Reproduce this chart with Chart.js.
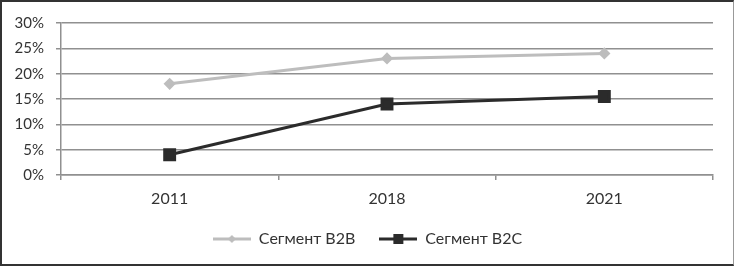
<!DOCTYPE html>
<html>
<head>
<meta charset="utf-8">
<script src="https://cdn.jsdelivr.net/npm/chart.js@4"></script>
<style>
  html, body { margin: 0; padding: 0; background: #fff; }
  #wrap {
    position: absolute; left: 0; top: 0;
    width: 734px; height: 266px; box-sizing: border-box;
    border-left: 2px solid #333; border-top: 2px solid #333;
    border-bottom: 2px solid #333; border-right: 1px solid #999;
    background: #fff;
  }
</style>
</head>
<body>
<div id="wrap"><canvas id="line-chart"></canvas></div>
<script>
var years = ['2011', '2018', '2021'];
var b2b = [18, 23, 24];
var b2c = [4, 14, 15.5];
var seriesNames = ['Сегмент B2B', 'Сегмент B2C'];

var font = "Lato, 'Liberation Sans', sans-serif";

// little legend pictures: line with marker in the middle
function legendIcon(color, marker) {
    var c = document.createElement('canvas');
    c.width = 38; c.height = 14;
    var ctx = c.getContext('2d');
    ctx.strokeStyle = color;
    ctx.lineWidth = 3;
    ctx.beginPath();
    ctx.moveTo(0, 7); ctx.lineTo(38, 7);
    ctx.stroke();
    ctx.fillStyle = color;
    if (marker === 'diamond') {
        ctx.beginPath();
        ctx.moveTo(19, 3); ctx.lineTo(23, 7); ctx.lineTo(19, 11); ctx.lineTo(15, 7);
        ctx.closePath();
        ctx.fill();
    } else {
        ctx.fillRect(14, 2, 10, 10);
    }
    return c;
}

// legend in the original sits a bit right of the canvas centre
var nudgeLegend = {
    id: 'nudgeLegend',
    afterLayout: function (chart) {
        if (chart.legend) {
            chart.legend.left += 10;
            chart.legend.right += 10;
        }
    }
};

new Chart(document.getElementById('line-chart'), {
    type: 'line',
    data: {
        labels: years,
        datasets: [{
            label: seriesNames[0],
            data: b2b,
            borderColor: '#bdbdbd',
            backgroundColor: '#bdbdbd',
            borderWidth: 3,
            pointStyle: 'rectRot',
            pointRadius: 4,
            legendIcon: legendIcon('#bdbdbd', 'diamond')
        }, {
            label: seriesNames[1],
            data: b2c,
            borderColor: '#2b2b2b',
            backgroundColor: '#2b2b2b',
            borderWidth: 3,
            pointStyle: 'rect',
            pointRadius: 7,
            legendIcon: legendIcon('#2b2b2b', 'square')
        }]
    },
    plugins: [nudgeLegend],
    options: {
        responsive: true,
        maintainAspectRatio: false,
        animation: false,
        layout: { padding: { left: 0, right: 20, top: 19, bottom: 7 } },
        plugins: {
            tooltip: { enabled: false },
            legend: {
                position: 'bottom',
                labels: {
                    usePointStyle: true,
                    pointStyleWidth: 38,
                    padding: 24,
                    color: '#333',
                    font: { family: font, size: 16 },
                    generateLabels: function (chart) {
                        return chart.data.datasets.map(function (ds, i) {
                            return {
                                text: ds.label,
                                pointStyle: ds.legendIcon,
                                fillStyle: ds.borderColor,
                                strokeStyle: ds.borderColor,
                                lineWidth: 0,
                                fontColor: '#333',
                                datasetIndex: i
                            };
                        });
                    }
                }
            }
        },
        scales: {
            x: {
                offset: true,
                afterFit: function (s) { s.height = 32; },
                grid: { offset: true, drawOnChartArea: false, tickLength: 5, color: '#909090', lineWidth: 1.5 },
                border: { color: '#909090', width: 1.5 },
                ticks: { padding: 9, color: '#333', font: { family: font, size: 16 } }
            },
            y: {
                min: 0,
                max: 30,
                afterFit: function (s) { s.width = 59; },
                grid: { tickLength: 5, color: '#909090', lineWidth: 1.5 },
                border: { color: '#909090', width: 1.5 },
                ticks: {
                    stepSize: 5,
                    padding: 12,
                    color: '#333',
                    font: { family: font, size: 15 },
                    callback: function (v) { return v + '%'; }
                }
            }
        }
    }
});
</script>
</body>
</html>
